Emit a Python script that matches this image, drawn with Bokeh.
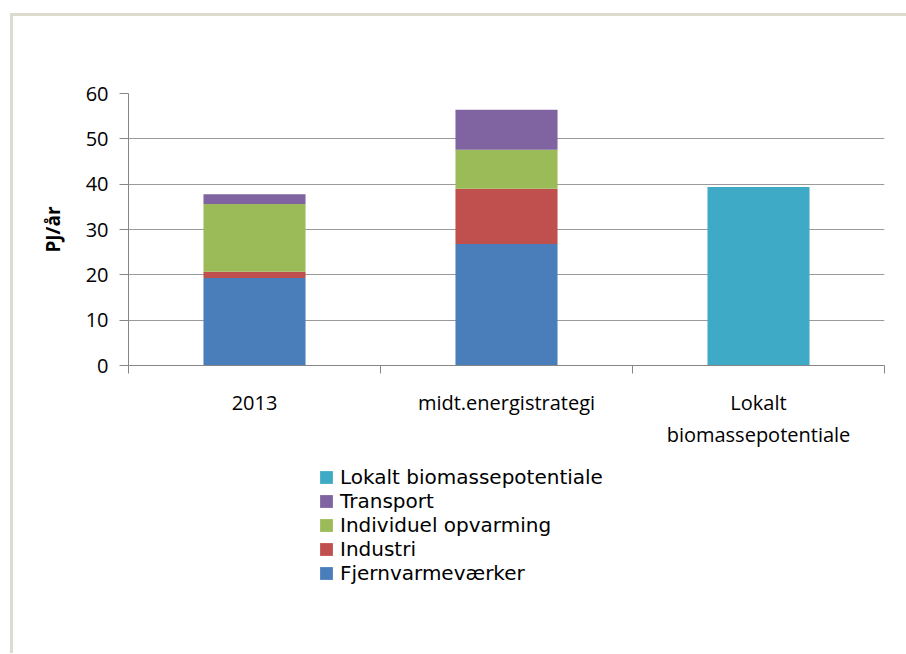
from bokeh.plotting import figure
from bokeh.layouts import column
from bokeh.models import ColumnDataSource, Range1d, FixedTicker, Legend, LegendItem
from bokeh.embed import file_html
from bokeh.resources import INLINE

categories = ["2013", "midt.energistrategi", "Lokalt\nbiomassepotentiale"]
series = ["Fjernvarmeværker", "Industri", "Individuel opvarming", "Transport",
          "Lokalt biomassepotentiale"]
fjernvarme = [19.3, 26.8, 0.0]
industri = [1.4, 12.2, 0.0]
individuel = [14.9, 8.6, 0.0]
transport = [2.2, 8.8, 0.0]
lokalt = [0.0, 0.0, 39.4]
colors = ["#4A7EBB", "#C0504D", "#9BBB59", "#8064A2", "#3FAAC6"]
y_ticks = [0, 10, 20, 30, 40, 50, 60]

FONT = "Open Sans"
LFONT = "DejaVu Sans"
AX = "#868686"
W = 893

centers = [i + 0.5 for i in range(len(categories))]
bounds = [float(i) for i in range(len(categories) + 1)]
values = [fjernvarme, industri, individuel, transport, lokalt]

data = {"x": centers}
for name, vals in zip(series, values):
    data[name] = vals
src = ColumnDataSource(data)

fig = figure(width=W, height=449, output_backend="svg", toolbar_location=None,
             x_range=Range1d(0, len(categories)), y_range=Range1d(0, 60),
             min_border_left=115, min_border_right=22, min_border_top=77,
             min_border_bottom=100)
fig.outline_line_color = None
fig.background_fill_color = "white"
fig.border_fill_color = "white"

fig.vbar_stack(series, x="x", width=0.405, source=src, color=colors, line_color=None)

fig.yaxis.ticker = FixedTicker(ticks=y_ticks)
fig.yaxis.axis_line_color = AX
fig.yaxis.major_tick_line_color = AX
fig.yaxis.major_tick_out = 9
fig.yaxis.major_tick_in = 0
fig.yaxis.minor_tick_line_color = None
fig.yaxis.major_label_text_font = FONT
fig.yaxis.major_label_text_font_size = "20px"
fig.yaxis.major_label_text_color = "black"
fig.yaxis.major_label_standoff = 11
fig.yaxis.axis_label = "PJ/år"
fig.yaxis.axis_label_text_font = FONT
fig.yaxis.axis_label_text_font_style = "bold"
fig.yaxis.axis_label_text_font_size = "19px"
fig.yaxis.axis_label_text_color = "black"
fig.yaxis.axis_label_standoff = 17

fig.xaxis.ticker = FixedTicker(ticks=centers, minor_ticks=bounds)
fig.xaxis.major_label_overrides = {c: lab for c, lab in zip(centers, categories)}
fig.xaxis.axis_line_color = AX
fig.xaxis.major_tick_line_color = None
fig.xaxis.major_tick_out = 0
fig.xaxis.major_tick_in = 0
fig.xaxis.minor_tick_line_color = AX
fig.xaxis.minor_tick_out = 8
fig.xaxis.minor_tick_in = 0
fig.xaxis.major_label_text_font = FONT
fig.xaxis.major_label_text_font_size = "20px"
fig.xaxis.major_label_text_color = "black"
fig.xaxis.major_label_text_line_height = 1.2
fig.xaxis.major_label_standoff = 15

fig.ygrid.ticker = FixedTicker(ticks=y_ticks)
fig.ygrid.grid_line_color = "#9a9a9a"
fig.ygrid.grid_line_width = 1.2
fig.xgrid.grid_line_color = None

# legend panel: hidden copies of the series supply the swatches
leg = figure(width=W, height=188, output_backend="svg", toolbar_location=None,
             x_range=Range1d(0, 1), y_range=Range1d(0, 1),
             x_axis_type=None, y_axis_type=None, min_border=0)
leg.outline_line_color = None
leg.background_fill_color = "white"
leg.border_fill_color = "white"
swatches = [leg.vbar(x=centers, top=vals, width=0.5, color=c, line_color=None, visible=False)
            for c, vals in zip(colors, values)]
items = [LegendItem(label=s, renderers=[r]) for s, r in zip(series, swatches)][::-1]
legend = Legend(items=items, location=(190, 68), orientation="vertical",
                glyph_width=16, glyph_height=16, label_standoff=6, spacing=0,
                label_height=20, padding=0, margin=0, border_line_color=None,
                background_fill_alpha=0, inactive_fill_alpha=0,
                label_text_font=LFONT, label_text_font_size="20px",
                label_text_color="black")
leg.add_layout(legend, "center")

p = column(fig, leg, spacing=0)
p.margin = (13, 0, 0, 10)
p.styles = {"border-left": "3px solid #dddbcf", "border-top": "3px solid #dddbcf"}

open("out.html", "w").write(file_html(p, INLINE))
